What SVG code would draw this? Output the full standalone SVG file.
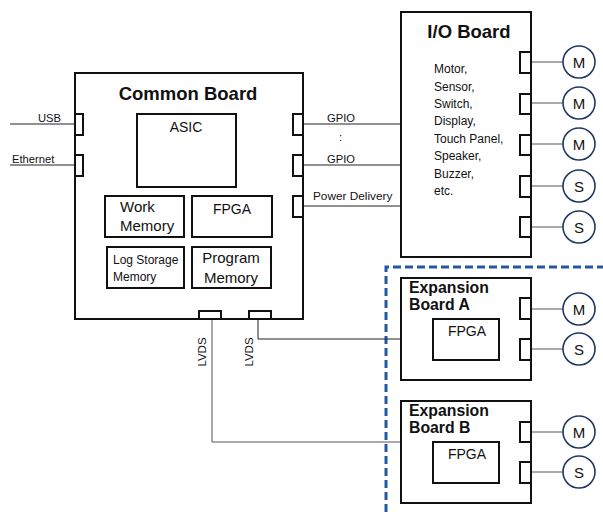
<svg xmlns="http://www.w3.org/2000/svg" width="603" height="514" viewBox="0 0 603 514">
<style>
.board{fill:#fff;stroke:#111;stroke-width:2}
.box{fill:#fff;stroke:#111;stroke-width:2}
.port{fill:#fff;stroke:#111;stroke-width:2}
.wire{fill:none;stroke:#222;stroke-width:1}
.gwire{fill:none;stroke:#555;stroke-width:1}
.dev{fill:#fff;stroke:#1f3864;stroke-width:1.6}
.t{font-family:"Liberation Sans",Arial,sans-serif;fill:#111}
.title{font-weight:bold;font-size:18.5px}
.etitle{font-weight:bold;font-size:15.8px}
.sm{font-size:11.2px}
.dev-t{font-size:15px;text-anchor:middle}
</style>
<rect width="603" height="514" fill="#fff"/>
<path d="M386 512 V267 H603" fill="none" stroke="#2456a6" stroke-width="3" stroke-dasharray="8,4"/>
<g id="connectors">
<path class="wire" d="M10 124 H75"/>
<path class="wire" d="M10 165 H75"/>
<path class="wire" d="M303 124 H401"/>
<path class="wire" d="M303 165 H401"/>
<path class="wire" d="M303 206 H401"/>
<path class="wire" d="M258 319 V339 H401"/>
<path class="gwire" d="M212 319 V442 H401"/>
<path class="gwire" d="M531 62 H563"/>
<path class="gwire" d="M531 103 H563"/>
<path class="gwire" d="M531 144 H563"/>
<path class="gwire" d="M531 186 H563"/>
<path class="gwire" d="M531 227 H563"/>
<path class="gwire" d="M531 309 H563"/>
<path class="gwire" d="M531 349 H563"/>
<path class="gwire" d="M531 432 H563"/>
<path class="gwire" d="M531 472 H563"/>
<text class="t sm" x="38" y="122">USB</text>
<text class="t sm" x="12" y="163">Ethernet</text>
<text class="t sm" x="327" y="122">GPIO</text>
<text class="t sm" x="339" y="141">:</text>
<text class="t sm" x="327" y="163">GPIO</text>
<text class="t" font-size="11.8" x="313" y="200">Power Delivery</text>
<text class="t" font-size="11.5" transform="translate(206,352) rotate(-90)" text-anchor="middle">LVDS</text>
<text class="t" font-size="11.5" transform="translate(253,352) rotate(-90)" text-anchor="middle">LVDS</text>
</g>
<g id="common-board">
<rect class="board" x="75" y="73" width="228" height="246"/>
<text class="t title" x="188" y="100" text-anchor="middle">Common Board</text>
<rect class="port" x="75" y="114" width="8" height="21"/>
<rect class="port" x="75" y="155" width="8" height="21"/>
<rect class="port" x="293" y="114" width="10" height="21"/>
<rect class="port" x="293" y="155" width="10" height="21"/>
<rect class="port" x="293" y="196" width="10" height="21"/>
<rect class="port" x="199" y="311" width="22" height="8"/>
<rect class="port" x="249" y="311" width="22" height="8"/>
</g>
<g id="asic">
<rect class="box" x="137" y="114" width="99" height="73"/>
<text class="t" x="186" y="132" font-size="14" text-anchor="middle">ASIC</text>
</g>
<g id="work-memory">
<rect class="box" x="105" y="196" width="79" height="41"/>
<text class="t" x="120" y="212" font-size="15">Work</text>
<text class="t" x="120" y="231" font-size="15">Memory</text>
</g>
<g id="fpga-common">
<rect class="box" x="192" y="196" width="80" height="41"/>
<text class="t" x="232" y="214" font-size="14" text-anchor="middle">FPGA</text>
</g>
<g id="log-storage-memory">
<rect class="box" x="107" y="247" width="77" height="41"/>
<text class="t" x="113" y="264" font-size="12">Log Storage</text>
<text class="t" x="113" y="281" font-size="12">Memory</text>
</g>
<g id="program-memory">
<rect class="box" x="192" y="247" width="79" height="41"/>
<text class="t" x="231" y="263" font-size="15" text-anchor="middle">Program</text>
<text class="t" x="231" y="283" font-size="15" text-anchor="middle">Memory</text>
</g>
<g id="io-board">
<rect class="board" x="401" y="12" width="130" height="245"/>
<text class="t title" x="469" y="38" text-anchor="middle">I/O Board</text>
<text class="t" font-size="12" x="434" y="73">Motor,</text>
<text class="t" font-size="12" x="434" y="90.5">Sensor,</text>
<text class="t" font-size="12" x="434" y="108">Switch,</text>
<text class="t" font-size="12" x="434" y="125">Display,</text>
<text class="t" font-size="12" x="434" y="142.5">Touch Panel,</text>
<text class="t" font-size="12" x="434" y="160">Speaker,</text>
<text class="t" font-size="12" x="434" y="177.5">Buzzer,</text>
<text class="t" font-size="12" x="434" y="195">etc.</text>
<rect class="port" x="520" y="52" width="11" height="21"/>
<rect class="port" x="520" y="94" width="11" height="20"/>
<rect class="port" x="520" y="135" width="11" height="20"/>
<rect class="port" x="520" y="176" width="11" height="21"/>
<rect class="port" x="520" y="217" width="11" height="20"/>
</g>
<g id="expansion-board-a">
<rect class="board" x="401" y="278" width="130" height="102"/>
<text class="t etitle" x="409" y="292.5">Expansion</text>
<text class="t etitle" x="409" y="309.5">Board A</text>
<rect class="box" x="433" y="319" width="66" height="41"/>
<text class="t" x="467" y="336" font-size="14" text-anchor="middle">FPGA</text>
<rect class="port" x="520" y="298" width="11" height="21"/>
<rect class="port" x="520" y="339" width="11" height="21"/>
</g>
<g id="expansion-board-b">
<rect class="board" x="401" y="401" width="130" height="102"/>
<text class="t etitle" x="409" y="415.5">Expansion</text>
<text class="t etitle" x="409" y="432.5">Board B</text>
<rect class="box" x="433" y="442" width="66" height="41"/>
<text class="t" x="467" y="459" font-size="14" text-anchor="middle">FPGA</text>
<rect class="port" x="520" y="422" width="11" height="20"/>
<rect class="port" x="520" y="462" width="11" height="21"/>
</g>
<g id="dev-io-m1"><circle class="dev" cx="579" cy="62" r="16"/><text class="t dev-t" x="579" y="67.5">M</text></g>
<g id="dev-io-m2"><circle class="dev" cx="579" cy="103" r="16"/><text class="t dev-t" x="579" y="108.5">M</text></g>
<g id="dev-io-m3"><circle class="dev" cx="579" cy="144" r="16"/><text class="t dev-t" x="579" y="149.5">M</text></g>
<g id="dev-io-s1"><circle class="dev" cx="579" cy="186" r="16"/><text class="t dev-t" x="579" y="191.5">S</text></g>
<g id="dev-io-s2"><circle class="dev" cx="579" cy="227" r="16"/><text class="t dev-t" x="579" y="232.5">S</text></g>
<g id="dev-a-m"><circle class="dev" cx="579" cy="309" r="16"/><text class="t dev-t" x="579" y="314.5">M</text></g>
<g id="dev-a-s"><circle class="dev" cx="579" cy="349" r="16"/><text class="t dev-t" x="579" y="354.5">S</text></g>
<g id="dev-b-m"><circle class="dev" cx="579" cy="432" r="16"/><text class="t dev-t" x="579" y="437.5">M</text></g>
<g id="dev-b-s"><circle class="dev" cx="579" cy="472" r="16"/><text class="t dev-t" x="579" y="477.5">S</text></g>
</svg>
